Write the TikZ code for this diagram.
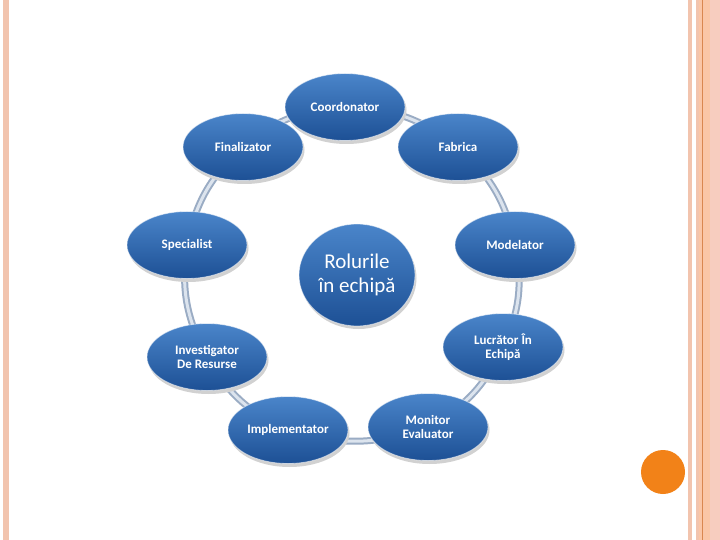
\documentclass[tikz,border=0pt]{standalone}
\usepackage{fontspec}
\setmainfont{Carlito}
\usetikzlibrary{shapes.geometric}
\definecolor{stripe}{HTML}{F2C4AE}
\definecolor{peach}{HTML}{FAC6A6}
\definecolor{pinkish}{HTML}{F7CDBF}
\definecolor{darkline}{HTML}{D9874F}
\definecolor{orangeball}{HTML}{F28218}
\definecolor{blueTop}{HTML}{4A85CA}
\definecolor{blueBot}{HTML}{1D5095}
\definecolor{ringOut}{HTML}{9AACC4}
\definecolor{ringIn}{HTML}{DCE4EE}
\tikzset{
  role/.style={ellipse, minimum width=120pt, minimum height=67pt, inner sep=0pt,
    top color=blueTop, bottom color=blueBot, draw=white, draw opacity=0.55, line width=0.8pt,
    text=white, font=\bfseries\fontsize{13}{14.5}\selectfont, align=center},
  hub/.style={ellipse, minimum width=116pt, minimum height=102pt, inner sep=0pt,
    top color=blueTop, bottom color=blueBot, draw=white, draw opacity=0.55, line width=0.8pt,
    text=white, font=\fontsize{21}{23.5}\selectfont, align=center},
  ringa/.style={ringOut, line width=7pt},
  ringb/.style={ringIn, line width=3pt},
}
\begin{document}
\begin{tikzpicture}[x=1pt,y=-1pt]
\useasboundingbox (0,0) rectangle (720,540);
\fill[white] (0,0) rectangle (720,540);
% border stripes
\fill[stripe] (3,0) rectangle (9,540);
\fill[stripe] (688,0) rectangle (692,540);
\fill[stripe] (696,0) rectangle (699,540);
\fill[peach] (699,0) rectangle (710,540);
\fill[darkline] (702.2,0) rectangle (703.2,540);
\fill[pinkish] (710,0) rectangle (720,540);
% orange ball
\fill[orangeball] (663,472) circle (22);

\path
  (345,107) coordinate (pC)
  (458,147) coordinate (pFa)
  (515,245) coordinate (pM)
  (503,347) coordinate (pL)
  (428,427) coordinate (pMo)
  (288,430) coordinate (pI)
  (207,357) coordinate (pInv)
  (187,245) coordinate (pS)
  (243,147) coordinate (pFi);

% ring connectors
\foreach \a/\b in {pC/pFa, pFa/pM, pM/pL, pL/pMo, pMo/pI, pI/pInv, pInv/pS, pS/pFi, pFi/pC}{
  \draw[ringa] (\a) to[bend left=18] (\b);
  \draw[ringb] (\a) to[bend left=18] (\b);
}

% shadows
\foreach \p in {pC,pFa,pM,pL,pMo,pI,pInv,pS,pFi}{
  \fill[black!18] ([shift={(1.5,3)}]\p) ellipse (60 and 34);
}
\fill[black!18] (358.5,278) ellipse (58 and 51);

\node[role] (coord) at (pC) {Coordonator};
\node[role] (fabr) at (pFa) {Fabrica};
\node[role] (model) at (pM) {Modelator};
\node[role] (lucr) at (pL) {Lucrător În\\Echipă};
\node[role] (monit) at (pMo) {Monitor\\Evaluator};
\node[role] (impl) at (pI) {Implementator};
\node[role] (inv) at (pInv) {Investigator\\De Resurse};
\node[role] (spec) at (pS) {Specialist};
\node[role] (fin) at (pFi) {Finalizator};
\node[hub] (hub) at (357,275) {Rolurile\\în echipă};
\end{tikzpicture}
\end{document}
